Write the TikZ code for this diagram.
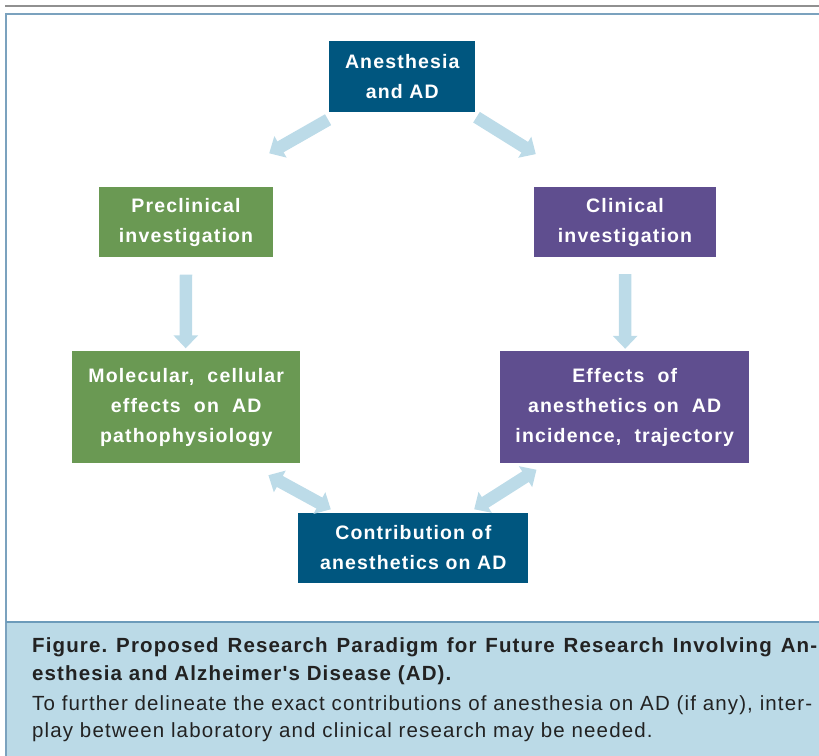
\documentclass[tikz,border=0pt]{standalone}
\usepackage{fontspec}
\setmainfont{Liberation Sans}
\newfontfamily\boxfont[LetterSpace=6]{Liberation Sans}
\newfontfamily\capfont[LetterSpace=5.5]{Liberation Sans}
\usetikzlibrary{arrows.meta,calc}
\definecolor{dblue}{HTML}{00567F}
\definecolor{dgreen}{HTML}{6A9953}
\definecolor{dpurple}{HTML}{5F4E8F}
\definecolor{arrowc}{HTML}{BCDBE8}
\definecolor{capbg}{HTML}{BBDAE7}
\definecolor{framec}{HTML}{7BA2BE}
\definecolor{sepc}{HTML}{6C9BBA}
\definecolor{topline}{HTML}{909090}
\definecolor{captext}{HTML}{222222}
\frenchspacing
\begin{document}
\begin{tikzpicture}[x=1pt,y=-1pt,
  box/.style={text=white, font=\boxfont\bfseries\fontsize{19.5}{30}\selectfont, align=center, inner sep=0pt},
  blk/.style={line width=12.5pt, draw=arrowc, -{Triangle[width=24pt,length=13pt]}},
  dblk/.style={line width=12.5pt, draw=arrowc, {Triangle[width=24pt,length=13pt]}-{Triangle[width=24pt,length=13pt]}},
  capt/.style={font=\capfont\fontsize{20.5}{28}\selectfont, text=captext, inner sep=0pt, anchor=base west}
  ]
\useasboundingbox (0,0) rectangle (819,755);
% frame and caption background
\draw[topline, line width=1.8pt] (5,5.8) -- (830,5.8);
\fill[capbg] (6,622) rectangle (830,760);
\draw[framec, line width=1.5pt] (6,760) -- (6,14) -- (830,14);
\draw[sepc, line width=2pt] (6,622) -- (830,622);

% boxes
\node[box, fill=dblue, minimum width=146, minimum height=71] (top) at (402.3,76.5) {Anesthesia\\and AD};
\node[box, fill=dgreen, minimum width=174, minimum height=70] (pre) at (186,222) {Preclinical\\investigation};
\node[box, fill=dpurple, minimum width=182, minimum height=70] (cli) at (625,222) {Clinical\\investigation};
\node[box, fill=dgreen, minimum width=228, minimum height=112] (mol) at (186.2,407) {Molecular,\ \ cellular\\effects\ \ on\ \ AD\\pathophysiology};
\node[box, fill=dpurple, minimum width=249, minimum height=112] (eff) at (624.7,407) {Effects\ \ of\\anesthetics on\ \ AD\\incidence,\ \ trajectory};
\node[box, fill=dblue, minimum width=230, minimum height=70] (con) at (413.3,547.5) {Contribution of\\anesthetics on AD};

% arrows
\draw[blk] ($(top.south west)+(-1,7.5)$) -- ($(pre.north east)+(-4,-33.5)$);
\draw[blk] ($(top.south east)+(1,5)$) -- ($(cli.north west)+(2,-32.7)$);
\draw[blk] ($(pre.south)+(0,17.5)$) -- ($(mol.north)+(-0.5,-2.5)$);
\draw[blk] ($(cli.south)+(0,17)$) -- ($(eff.north)+(0.5,-2)$);
\draw[dblk] ($(mol.south east)+(-32,12)$) -- ($(con.north west)+(32.7,-3)$);
\draw[dblk] ($(eff.south west)+(36.5,6.5)$) -- ($(con.north east)+(-54.3,-3)$);

% caption
\node[capt] (c1) at (32,652.5) {\makebox[785pt][s]{\bfseries Figure. Proposed Research Paradigm for Future Research Involving An-}};
\node[capt] (c2) at (32,680.5) {\bfseries esthesia and Alzheimer's Disease (AD).};
\node[capt] (c3) at (32,710) {\makebox[780pt][s]{To further delineate the exact contributions of anesthesia on AD (if any), inter-}};
\node[capt] (c4) at (32,737) {play between laboratory and clinical research may be needed.};
\end{tikzpicture}
\end{document}
